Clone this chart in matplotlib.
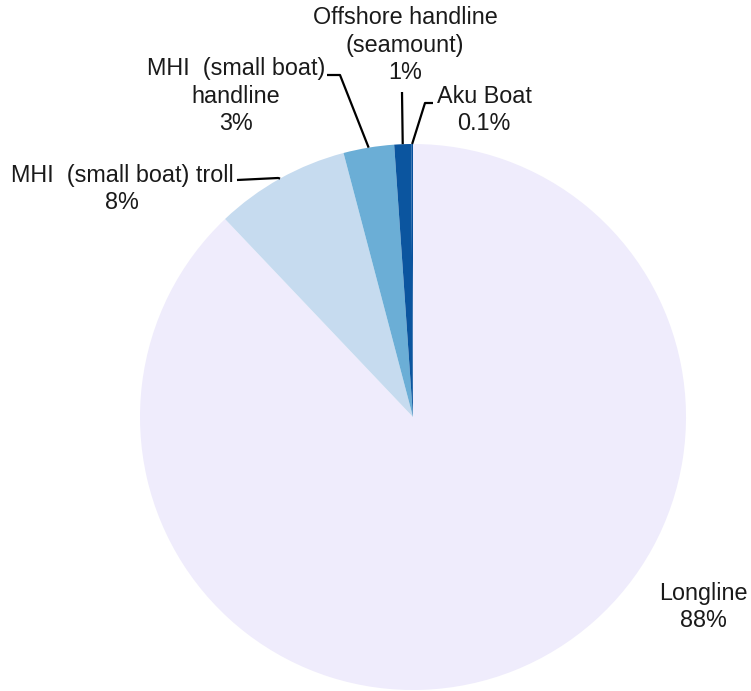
import numpy as np
import matplotlib.pyplot as plt

# Share of catch by fishery
fisheries = ["Longline", "MHI  (small boat) troll", "MHI  (small boat)\nhandline",
             "Offshore handline\n(seamount)", "Aku Boat"]
shares = [88, 8, 3, 1, 0.1]
share_labels = ["88%", "8%", "3%", "1%", "0.1%"]
colors = ["#EFECFC", "#C6DBEF", "#6BAED6", "#0B559F", "#08519C"]

plt.rcParams["font.family"] = ["Liberation Sans", "DejaVu Sans"]

W, H = 751, 691
fig = plt.figure(figsize=(W / 100, H / 100), dpi=100)
ax = fig.add_axes([0, 0, 1, 1])

cx, cy, r = 413, H - 417, 273
wedges, _ = ax.pie(shares, colors=colors, startangle=90, counterclock=False,
                   center=(cx, cy), radius=r, frame=True,
                   wedgeprops=dict(linewidth=0))
ax.set_xlim(0, W)
ax.set_ylim(0, H)
ax.set_aspect("equal")
ax.axis("off")


def edge_point(w):
    a = np.deg2rad((w.theta1 + w.theta2) / 2)
    return cx + r * np.cos(a), cy + r * np.sin(a)


txt = dict(fontsize=16.8, color="#1a1a1a", ha="center", va="center",
           linespacing=1.27)

# label text positions (pixel coords, y from top) and leader elbows
label_pos = [(703, 607), (122, 189), (236, 96), (405, 45), (484, 110)]
elbows = [None, [(278, 178), (237, 180)], [(340, 75), (327, 75)],
          [(402, 92)], [(425, 103), (433, 103)]]

for i, (name, pct) in enumerate(zip(fisheries, share_labels)):
    x, y = label_pos[i]
    ax.text(x, H - y, f"{name}\n{pct}", **txt)
    if elbows[i] is None:
        continue
    px, py = edge_point(wedges[i])
    xs = [px] + [e[0] for e in elbows[i]]
    ys = [py] + [H - e[1] for e in elbows[i]]
    ax.plot(xs, ys, color="black", lw=1.6, solid_capstyle="butt")

fig.savefig("out.png", dpi=100)
